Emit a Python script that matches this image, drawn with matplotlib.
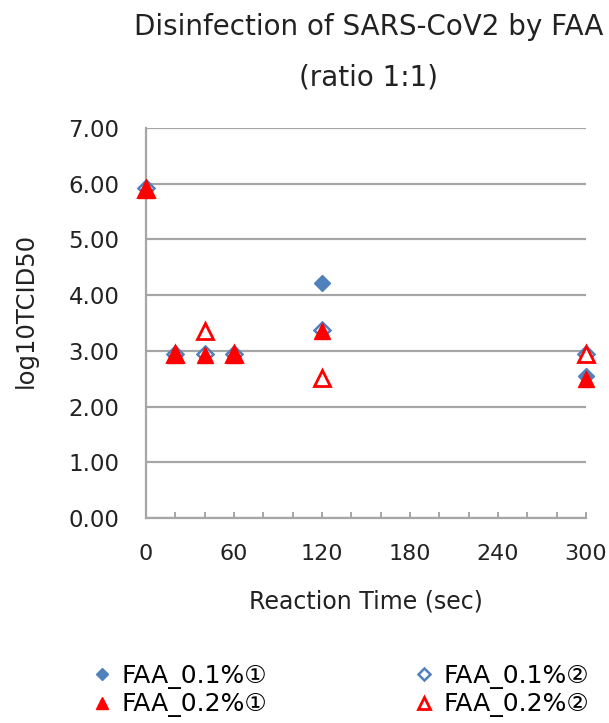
import matplotlib
matplotlib.use("Agg")
from matplotlib import pyplot as plt

plt.rcParams['font.family'] = ['DejaVu Sans', 'Noto Sans CJK JP']

# reaction time (sec)
t = [0, 20, 40, 60, 120, 300]
# log10 TCID50 per run
faa01_1 = [5.93, 2.95, 2.95, 2.95, 4.21, 2.55]
faa01_2 = [5.93, 2.95, 2.95, 2.95, 3.38, 2.95]
faa02_1 = [5.88, 2.93, 2.93, 2.93, 3.35, 2.50]
faa02_2 = [5.90, 2.95, 3.36, 2.95, 2.52, 2.94]
labels = ["FAA_0.1%①", "FAA_0.1%②", "FAA_0.2%①", "FAA_0.2%②"]

blue = "#4f81bd"
red = "#ff0000"
grid = "#a6a6a6"
txt = "#222222"

fig = plt.figure(figsize=(6.09, 7.23), dpi=100)
ax = fig.add_axes([0.2397, 0.2835, 0.7225, 0.5395])

h1, = ax.plot(t, faa01_1, ls='none', marker='D', ms=8, color=blue, clip_on=False, zorder=3)
h2, = ax.plot(t, faa01_2, ls='none', marker='D', ms=8, mfc='white', mec=blue, mew=1.8, clip_on=False, zorder=3)
h4, = ax.plot(t, faa02_2, ls='none', marker='^', ms=11, mfc='white', mec=red, mew=2, clip_on=False, zorder=4)
h3, = ax.plot(t, faa02_1, ls='none', marker='^', ms=11, color=red, clip_on=False, zorder=5)

ax.set_xlim(0, 300)
ax.set_ylim(0, 7)
ax.set_xticks(range(0, 301, 60))
ax.set_xticks(range(0, 301, 20), minor=True)
ax.set_yticks(range(0, 8))
ax.set_yticklabels([f"{v:.2f}" for v in range(0, 8)])
ax.yaxis.grid(True, color=grid, lw=1.6)
ax.set_axisbelow(True)
for s in ['top', 'right']:
    ax.spines[s].set_visible(False)
for s in ['left', 'bottom']:
    ax.spines[s].set_color(grid)
    ax.spines[s].set_linewidth(1.6)
ax.tick_params(axis='x', which='both', direction='in', length=4, width=1.4, color=grid,
               labelsize=16, pad=19, labelcolor=txt)
ax.tick_params(axis='y', length=0, labelsize=16.5, pad=19, labelcolor=txt)

ax.set_xlabel("Reaction Time (sec)", fontsize=17, labelpad=18, color=txt)
ax.set_ylabel("log10TCID50", fontsize=17.5, color=txt)
ax.yaxis.set_label_coords(-0.245, 0.531)
fig.text(0.605, 0.962, "Disinfection of SARS-CoV2 by FAA", ha='center', va='center', fontsize=20, color=txt)
fig.text(0.605, 0.893, "(ratio 1:1)", ha='center', va='center', fontsize=20, color=txt)

fig.legend([h1, h3, h2, h4], [labels[0], labels[2], labels[1], labels[3]], ncol=2,
           loc='center left', bbox_to_anchor=(0.127, 0.0445), frameon=False, fontsize=18,
           markerscale=0.75, handlelength=0.6, handletextpad=0.45, columnspacing=6.0,
           labelspacing=0.13, borderpad=0.2)

fig.savefig("out.png", dpi=100)
